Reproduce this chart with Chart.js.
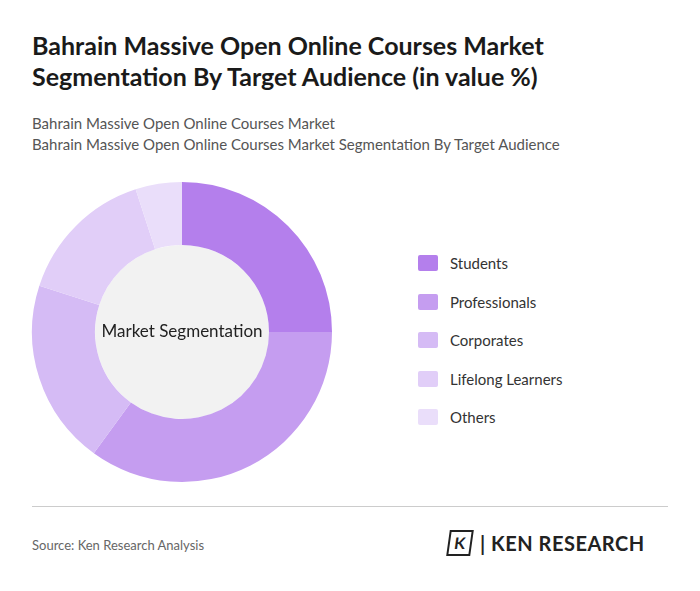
<!DOCTYPE html>
<html><head><meta charset="utf-8">
<script src="https://cdn.jsdelivr.net/npm/chart.js@4"></script>
<style>
body{margin:0;width:700px;height:591px;background:#fff;font-family:Lato,"Noto Sans",sans-serif;position:relative;overflow:hidden}
h1{position:absolute;left:32px;top:30px;margin:0;font-size:25px;line-height:31px;font-weight:700;color:#1a1a1a;width:640px}
.sub{position:absolute;left:32px;top:113px;font-size:15px;line-height:21px;color:#555}
#wrap{position:absolute;left:22px;top:172px;width:320px;height:320px}
#legend{position:absolute;left:418px;top:244px;font-size:15px;color:#333}
.li{display:flex;align-items:center;height:38.5px}
.sw{width:20px;height:16px;margin-right:12px;border-radius:2px}
.hr{position:absolute;left:32px;top:506px;width:636px;border-top:1px solid #ccc}
.src{position:absolute;left:32px;top:537px;font-size:13px;color:#666}
.logo{position:absolute;left:448px;top:530px;font-size:20px;font-weight:700;color:#222;letter-spacing:0.5px;display:flex;align-items:center}
.k{width:20px;height:22px;border:2px solid #222;margin-right:8px;font-size:16px;line-height:22px;text-align:center;transform:skewX(-8deg)}
</style></head><body>
<h1>Bahrain Massive Open Online Courses Market Segmentation By Target Audience (in value %)</h1>
<div class="sub">Bahrain Massive Open Online Courses Market<br>Bahrain Massive Open Online Courses Market Segmentation By Target Audience</div>
<div id="wrap"><canvas id="c"></canvas></div>
<div id="legend"></div>
<div class="hr"></div>
<div class="src">Source: Ken Research Analysis</div>
<div class="logo"><span class="k">K</span>| KEN RESEARCH</div>
<script>
const categories=["Students","Professionals","Corporates","Lifelong Learners","Others"];
const values=[25,35,20,15,5];
const colors=["#b47fec","#c59df0","#d5bbf5","#e1cef8","#eadefa"];
const lg=document.getElementById('legend');
categories.forEach((c,i)=>{lg.innerHTML+=`<div class="li"><div class="sw" style="background:${colors[i]}"></div>${c}</div>`;});
const center={id:'center',beforeDatasetsDraw(ch){const m=ch.getDatasetMeta(0).data[0];if(!m)return;const x=ch.ctx;x.save();x.beginPath();x.arc(m.x,m.y,m.innerRadius,0,Math.PI*2);x.fillStyle='#f2f2f2';x.fill();x.restore();},
afterDatasetsDraw(ch){const m=ch.getDatasetMeta(0).data[0];const x=ch.ctx;x.save();x.fillStyle='#222';x.font='17px Lato';x.textAlign='center';x.textBaseline='middle';x.fillText('Market Segmentation',m.x,m.y);x.restore();}};
new Chart(document.getElementById('c'),{type:'doughnut',data:{labels:categories,datasets:[{data:values,backgroundColor:colors,borderWidth:0}]},
options:{responsive:true,maintainAspectRatio:false,animation:false,cutout:'58%',layout:{padding:10},plugins:{legend:{display:false},tooltip:{enabled:false}}},plugins:[center]});
</script></body></html>
